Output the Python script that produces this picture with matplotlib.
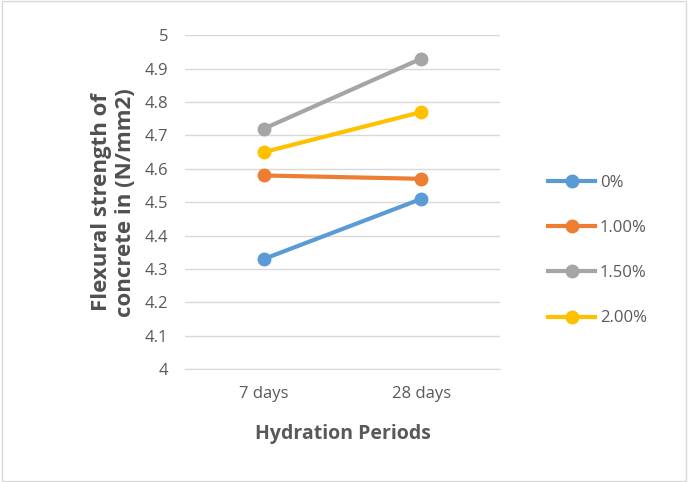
import matplotlib
matplotlib.use("Agg")
import matplotlib.pyplot as plt

periods = ["7 days", "28 days"]
series_names = ["0%", "1.00%", "1.50%", "2.00%"]
values_0 = [4.33, 4.51]
values_1 = [4.58, 4.57]
values_15 = [4.72, 4.93]
values_2 = [4.65, 4.77]
colors = ["#5B9BD5", "#ED7D31", "#A5A5A5", "#FFC000"]

plt.rcParams['font.family'] = ['Open Sans', 'DejaVu Sans']

fig = plt.figure(figsize=(6.88, 4.82), dpi=100)
ax = fig.add_axes([0.269, 0.234, 0.458, 0.693])

x = list(range(len(periods)))
for vals, name, c in zip([values_0, values_1, values_15, values_2], series_names, colors):
    ax.plot(x, vals, color=c, lw=3, marker='o', ms=9, label=name)

ax.set_xlim(-0.5, 1.5)
ax.set_ylim(4, 5)
ax.set_yticks([4 + i * 0.1 for i in range(11)])
ax.set_yticklabels(["4", "4.1", "4.2", "4.3", "4.4", "4.5", "4.6", "4.7", "4.8", "4.9", "5"])
ax.set_xticks(x)
ax.set_xticklabels(periods)
ax.tick_params(length=0, labelsize=12, colors="#595959", pad=12)
ax.grid(axis='y', color="#D9D9D9", lw=1)
ax.set_axisbelow(True)
for s in ["top", "right", "left"]:
    ax.spines[s].set_visible(False)
ax.spines["bottom"].set_color("#D9D9D9")

ax.set_xlabel("Hydration Periods", fontsize=14, fontweight='bold', color="#595959", labelpad=16)
ax.set_ylabel("Flexural strength of\nconcrete in (N/mm2)", fontsize=16, fontweight='bold',
              color="#505050", labelpad=6)

fig.legend(loc="center left", bbox_to_anchor=(0.775, 0.48), frameon=False, fontsize=12,
           labelcolor="#595959", handlelength=2.8, handletextpad=0.3, labelspacing=1.75)

fig.patches.append(plt.Rectangle((0.003, 0.003), 0.994, 0.994, transform=fig.transFigure,
                                 fill=False, edgecolor="#D9D9D9", lw=1))
fig.savefig("out.png", dpi=100)
